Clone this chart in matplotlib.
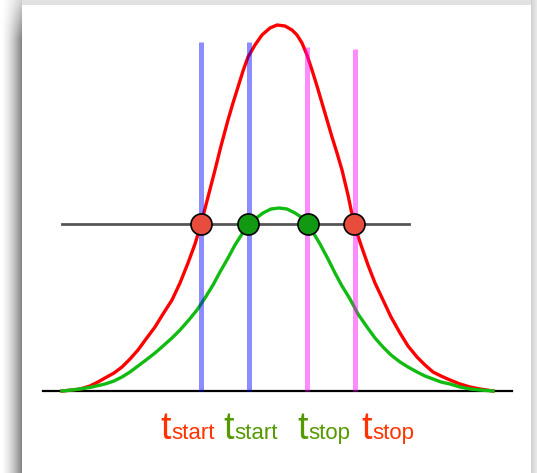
import matplotlib
matplotlib.use('Agg')
import matplotlib.pyplot as plt
import numpy as np

# curves (x in px, height above the baseline in px)
t_red = [62, 72, 80, 90, 98, 105, 114, 122, 130, 138, 146, 155, 163, 172, 180, 188, 195,
         201, 208, 215, 221, 228, 233, 238, 243, 248, 255, 262, 270, 277, 285, 292, 297,
         302, 307, 312, 317, 322, 327, 332, 337, 342, 348, 354, 361, 368, 375, 383, 391,
         400, 408, 417, 425, 433, 441, 450, 460, 470, 480, 493]
h_red = [0, 1, 2, 5, 9, 13, 18, 24, 32, 41, 52, 64, 77, 91, 108, 128, 147,
         167, 194, 221, 245, 271, 288, 304, 320, 334, 346, 356, 363, 366, 365, 361, 356,
         348, 336, 321, 305, 288, 271, 254, 238, 221, 196, 167, 146, 126, 108, 91, 74,
         58, 45, 34, 26, 19, 15, 11, 7, 4, 2, 0]

t_green = [62, 72, 80, 92, 105, 114, 122, 130, 138, 146, 155, 163, 172, 180, 188, 197,
           205, 213, 220, 228, 235, 242, 248, 255, 263, 271, 279, 287, 295, 301, 308,
           314, 320, 328, 335, 342, 350, 358, 367, 375, 383, 391, 400, 408, 417, 425,
           433, 441, 450, 460, 470, 480, 493]
h_green = [0, 1, 2, 4, 7, 10, 14, 19, 25, 31, 38, 45, 53, 61, 70, 81,
           93, 106, 119, 133, 146, 157, 166, 172, 178, 182, 183, 182, 178, 174, 166,
           157, 147, 132, 118, 105, 92, 77, 64, 53, 44, 36, 29, 24, 19, 15,
           12, 9, 7, 4, 2, 1, 0]

threshold = 167
red_cross = [201, 354]
green_cross = [248, 308]
start_lines = [201, 249]
start_tops = [349, 349]
stop_lines = [307, 355]
stop_tops = [344, 342]

labels = [('start', 160, '#ff3300'), ('start', 223, '#559900'),
          ('stop', 297, '#559900'), ('stop', 361, '#ff3300')]

W, H = 537, 473
fig = plt.figure(figsize=(W / 100, H / 100), dpi=100)

# drop shadow round the white card
bg = fig.add_axes([0, 0, 1, 1])
bg.axis('off')
shade = np.ones((H, W))
xs = np.arange(W)
ys = np.arange(H)
lx = xs < 22
shade[:, lx] = 1 - 0.48 * (xs[lx] / 21.0) ** 1.6
fade = np.clip(ys / 40.0, 0, 1)[:, None]
shade[:, lx] = 1 - (1 - shade[:, lx]) * (0.35 + 0.65 * fade)
shade[:6, 22:] = np.minimum(shade[:6, 22:], 0.88)
rx = xs >= 531
shade[:, rx] = 0.82 + 0.1 * (xs[rx] - 531) / 6.0
bg.imshow(shade, cmap='gray', vmin=0, vmax=1, aspect='auto',
          interpolation='nearest', extent=[0, W, H, 0])
bg.set_xlim(0, W)
bg.set_ylim(H, 0)

base_y = 391
ax = fig.add_axes([0, 0, 1, 1])
ax.patch.set_alpha(0)
ax.axis('off')
ax.set_xlim(0, W)
ax.set_ylim(base_y - H, base_y)

ax.plot([43, 512], [0, 0], color='black', lw=1.6, zorder=1)
ax.plot(t_red, h_red, color='#ff0000', lw=2.4, zorder=2, solid_joinstyle='round')
ax.plot(t_green, h_green, color='#11bb11', lw=2.4, zorder=2, solid_joinstyle='round')

ax.vlines(start_lines, 0, start_tops, color='#0000ff', alpha=0.45, lw=3.6, zorder=3)
ax.vlines(stop_lines, 0, stop_tops, color='#ff00ff', alpha=0.45, lw=3.6, zorder=3)

ax.plot([62, 409], [threshold, threshold], color='#555555', lw=2.0, zorder=4)
ax.scatter(red_cross, [threshold] * 2, s=230, color='#e84c3d', edgecolor='black',
           linewidth=1.2, zorder=5)
ax.scatter(green_cross, [threshold] * 2, s=230, color='#119911', edgecolor='black',
           linewidth=1.2, zorder=5)

fam = ['Liberation Sans Narrow', 'Liberation Sans', 'DejaVu Sans']
for sub, x0, c in labels:
    ax.text(x0, -48, 't', color=c, fontsize=27, family=fam, ha='left', va='baseline')
    ax.text(x0 + 11, -48, sub, color=c, fontsize=16, family=fam, ha='left', va='baseline')

fig.savefig('out.png', dpi=100)
